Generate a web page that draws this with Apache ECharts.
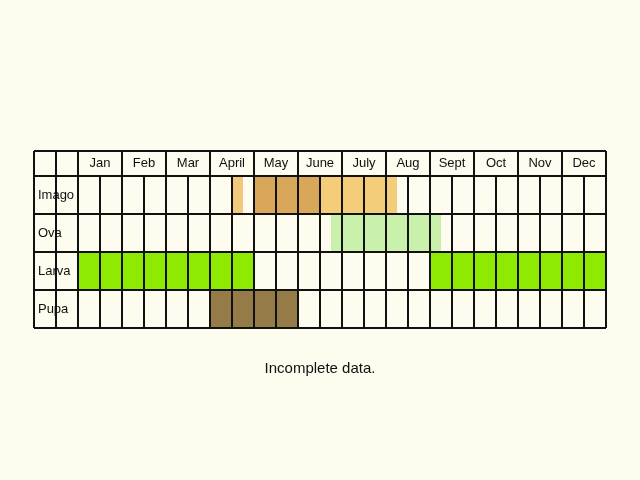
<!DOCTYPE html><html><head><meta charset="utf-8"><script src="https://cdn.jsdelivr.net/npm/echarts@6/dist/echarts.min.js"></script>
<style>body{margin:0;background:#fdfcee}#c{width:640px;height:480px}</style></head><body><div id="c"></div><script>
const months=['Jan','Feb','Mar','April','May','June','July','Aug','Sept','Oct','Nov','Dec'];
const stages=['Imago','Ova','Larva','Pupa'];
// bands: [stageIndex, startHalfMonth, endHalfMonth, colorKey]
const bandStage=[0,0,0,1,2,2,3];
const bandStart=[7,8,11,11.5,0,16,6];
const bandEnd=[7.5,11,14.5,16.5,8,24,10];
const bandColor=['#f2c97c','#d9a75a','#f3cd7a','#c9f1ab','#8eea00','#8eea00','#957b47'];
const rowTop=[25,63,101,139], rowH=38, headerH=25;
const chart=echarts.init(document.getElementById('c'));
const bands=bandStage.map((s,i)=>[bandStart[i],bandEnd[i],rowTop[s],rowTop[s]+rowH,bandColor[i]]);
const lines=[];
for(let u=-2;u<=24;u++){ const full=(u%2===0)||u<0; lines.push([u,full?0:headerH,u,177]); }
lines.push([-2,0,24,0]);
[25,63,101,139,177].forEach(y=>lines.push([-2,y,24,y]));
chart.setOption({
 backgroundColor:'#fdfcee',animation:false,
 grid:{left:34,right:34,top:151,bottom:152},
 xAxis:{type:'value',min:-2,max:24,show:false},
 yAxis:{type:'value',min:0,max:177,inverse:true,show:false},
 series:[
 {type:'custom',data:bands,renderItem:(p,api)=>{const a=api.coord([api.value(0),api.value(2)]),b=api.coord([api.value(1),api.value(3)]);
  return {type:'rect',shape:{x:a[0],y:a[1],width:b[0]-a[0],height:b[1]-a[1]},style:{fill:bands[p.dataIndex][4]}};}},
 {type:'custom',data:lines,renderItem:(p,api)=>{const a=api.coord([api.value(0),api.value(1)]),b=api.coord([api.value(2),api.value(3)]);
  return {type:'line',shape:{x1:a[0],y1:a[1],x2:b[0],y2:b[1]},style:{stroke:'#111',lineWidth:2}};}},
 {type:'custom',data:months.map((m,i)=>[i*2+1,12.5]),renderItem:(p,api)=>{const a=api.coord([api.value(0),api.value(1)]);
  return {type:'text',x:a[0],y:a[1],style:{text:months[p.dataIndex],align:'center',verticalAlign:'middle',font:'13px "Liberation Sans",Arial',fill:'#111'}};}},
 {type:'custom',data:stages.map((s,i)=>[-1.82,rowTop[i]+rowH/2]),renderItem:(p,api)=>{const a=api.coord([api.value(0),api.value(1)]);
  return {type:'text',x:a[0],y:a[1],style:{text:stages[p.dataIndex],align:'left',verticalAlign:'middle',font:'13px "Liberation Sans",Arial',fill:'#111'}};}}
 ],
 graphic:[{type:'text',left:'center',top:361,x:19,style:{text:'Incomplete data.',font:'15px "Liberation Sans",Arial',fill:'#111'}}]
});
</script></body></html>
